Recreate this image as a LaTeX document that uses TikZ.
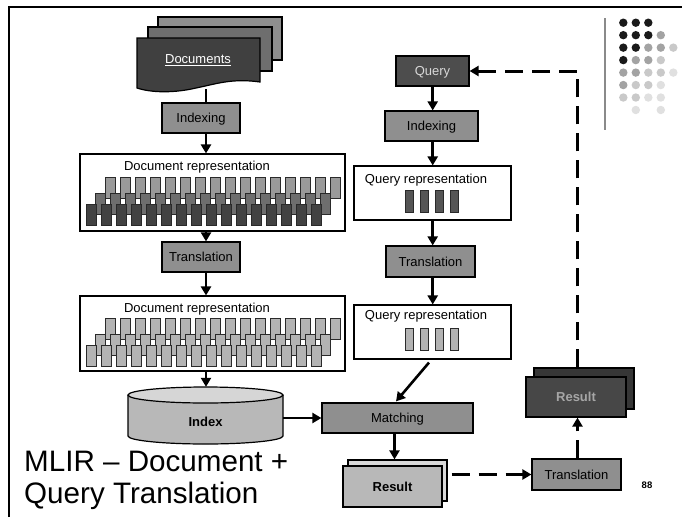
\documentclass[tikz,border=0pt]{standalone}
\usepackage{fontspec}
\setmainfont{Liberation Sans}
\usetikzlibrary{arrows.meta}

\definecolor{boxgray}{HTML}{8F8F8F}
\definecolor{qdark}{HTML}{4D4D4D}
\definecolor{docfront}{HTML}{404040}
\definecolor{docmid}{HTML}{6E6E6E}
\definecolor{docback}{HTML}{8E8E8E}
\definecolor{barA}{HTML}{9A9A9A}
\definecolor{barB}{HTML}{6E6E6E}
\definecolor{barC}{HTML}{424242}
\definecolor{barL}{HTML}{B3B3B3}
\definecolor{barQ}{HTML}{555555}
\definecolor{barline}{HTML}{2A2A2A}
\definecolor{cylbody}{HTML}{B8B8B8}
\definecolor{cyltop}{HTML}{D6D6D6}
\definecolor{resfront}{HTML}{B8B8B8}
\definecolor{resback}{HTML}{D9D9D9}
\definecolor{rtfront}{HTML}{474747}
\definecolor{rtback}{HTML}{363636}
\definecolor{rttext}{HTML}{A6A6A6}
\definecolor{qtext}{HTML}{D8D8D8}
\definecolor{dotK}{HTML}{1A1A1A}
\definecolor{dotG}{HTML}{A3A3A3}
\definecolor{dotL}{HTML}{C9C9C9}
\definecolor{dotX}{HTML}{E0E0E0}
\definecolor{rulegray}{HTML}{8A8A8A}

\begin{document}
\begin{tikzpicture}[x=1pt,y=-1pt,
  flowbox/.style={draw=black, line width=1.2pt, inner sep=0pt,
    font=\fontsize{13}{15}\selectfont, text height=9.3pt, text depth=0pt},
  panel/.style={draw=black, line width=1.1pt, fill=white, inner sep=0pt},
  bar/.style={draw=barline, line width=0.8pt},
  sheet/.style={draw=black, line width=1.2pt},
  lbl/.style={font=\fontsize{13}{15}\selectfont, inner sep=0pt},
  arr/.style={line width=2.6pt, -{Triangle[length=9pt,width=10pt]}},
  darr/.style={line width=3pt, dash pattern=on 18pt off 9pt,
    -{Triangle[length=9pt,width=10pt]}},
]
\useasboundingbox (0,0) rectangle (682,517);
\fill[white] (0,0) rectangle (682,517);

% slide frame
\draw[line width=2.4pt] (9.2,517) -- (9.2,7.2) -- (682,7.2);

% corner ornament: rule and dot grid
\draw[rulegray, line width=1.6pt] (605,18) -- (605,130);
\foreach \r/\c/\col in {0/0/dotK,0/1/dotK,0/2/dotK,
  1/0/dotK,1/1/dotK,1/2/dotK,1/3/dotG,
  2/0/dotK,2/1/dotK,2/2/dotG,2/3/dotG,2/4/dotL,
  3/0/dotK,3/1/dotG,3/2/dotG,3/3/dotL,
  4/0/dotG,4/1/dotG,4/2/dotL,4/3/dotL,4/4/dotX,
  5/0/dotG,5/1/dotL,5/2/dotL,5/3/dotX,
  6/0/dotL,6/1/dotL,6/2/dotX,6/3/dotX,
  7/1/dotX,7/3/dotX}
  \fill[\col] (623.3+12.5*\c,22.7+12.47*\r) circle[radius=4.2pt];

% stack of documents
\draw[sheet, fill=docback] (158,17) rectangle (282,60);
\draw[sheet, fill=docmid] (148,27) rectangle (272,71);
\draw[sheet, fill=docfront] (137,38) -- (260,38) -- (260,82)
  .. controls (232,78) and (216,84) .. (196,88)
  .. controls (175,93) and (152,93) .. (137,88) -- cycle;
\node[lbl, text=white] (docs) at (198,60) {\underline{Documents}};
\coordinate (docsfoot) at (206,89);
\coordinate (colL) at (206,0);
\coordinate (colR) at (432.7,0);

% document side
\node[flowbox, fill=boxgray, minimum width=78pt, minimum height=30pt] (idx1) at (201,118) {Indexing};
\node[panel, minimum width=265pt, minimum height=77pt] (rep1) at (212.5,192.5) {};
\node[lbl, anchor=base] (rep1t) at (197,170.7) {Document representation};
\foreach \i in {0,...,15} \draw[bar, fill=barA] (105+15*\i,177) rectangle ++(10,21);
\foreach \i in {0,...,15} \draw[bar, fill=barB] (95+15*\i,193) rectangle ++(10,21);
\foreach \i in {0,...,15} \draw[bar, fill=barC] (86+15*\i,204) rectangle ++(10,21);

\node[flowbox, fill=boxgray, minimum width=78pt, minimum height=30pt] (tr1) at (201,257) {Translation};
\node[panel, minimum width=265pt, minimum height=75pt] (rep2) at (212.5,333.5) {};
\node[lbl, anchor=base] (rep2t) at (197,312.3) {Document representation};
\foreach \i in {0,...,15} \draw[bar, fill=barL] (105+15*\i,318) rectangle ++(10,21);
\foreach \i in {0,...,15} \draw[bar, fill=barL] (95+15*\i,334) rectangle ++(10,21);
\foreach \i in {0,...,15} \draw[bar, fill=barL] (86+15*\i,345) rectangle ++(10,21);

% index cylinder
\draw[sheet, fill=cylbody] (128,395) -- (128,436) arc[start angle=180, end angle=360, x radius=77.5pt, y radius=8pt] -- (283,395);
\draw[sheet, fill=cyltop] (205.5,395) ellipse[x radius=77.5pt, y radius=8pt];
\node[inner sep=0pt, minimum width=155pt, minimum height=57pt] (index) at (205.5,415.5) {};
\node[lbl, font=\fontsize{13}{15}\selectfont\bfseries, anchor=base] (indext) at (205.5,426.3) {Index};

% query side
\node[flowbox, fill=qdark, text=qtext, minimum width=73pt, minimum height=30pt] (query) at (432.5,71) {Query};
\node[flowbox, fill=boxgray, minimum width=93pt, minimum height=30pt] (idx2) at (431.5,126) {Indexing};
\node[panel, minimum width=157pt, minimum height=54pt] (qrep1) at (432.5,193) {};
\node[lbl, anchor=base] (qrep1t) at (426,183.3) {Query representation};
\foreach \i in {0,...,3} \draw[bar, fill=barQ] (405+15*\i,190) rectangle ++(8,22);
\node[flowbox, fill=boxgray, minimum width=89pt, minimum height=31pt] (tr2) at (430.5,261.5) {Translation};
\node[panel, minimum width=157pt, minimum height=54pt] (qrep2) at (432.5,332) {};
\node[lbl, anchor=base] (qrep2t) at (426,319.5) {Query representation};
\foreach \i in {0,...,3} \draw[bar, fill=barL] (405+15*\i,328) rectangle ++(8,22);

% matching and results
\node[flowbox, fill=boxgray, minimum width=151pt, minimum height=30pt] (match) at (397.5,418) {Matching};
\node[sheet, fill=resback, inner sep=0pt, minimum width=99pt, minimum height=41pt] (resb) at (397.5,480.5) {};
\node[flowbox, fill=resfront, font=\fontsize{13}{15}\selectfont\bfseries, minimum width=99pt, minimum height=41pt] (res) at (392.5,486.5) {Result};
\node[flowbox, fill=boxgray, minimum width=89pt, minimum height=31pt] (tr3) at (576.5,474.5) {Translation};
\node[sheet, fill=rtback, inner sep=0pt, minimum width=100pt, minimum height=41pt] (res2b) at (584,388.5) {};
\node[flowbox, fill=rtfront, text=rttext, font=\fontsize{13}{15}\selectfont\bfseries, minimum width=100pt, minimum height=40pt] (res2) at (576,397) {Result};

% connectors
\draw[line width=2.6pt] (docsfoot) -- (idx1.north -| docsfoot);
\draw[arr] (idx1.south -| colL) -- (rep1.north -| colL);
\draw[arr] (rep1.south -| colL) -- (tr1.north -| colL);
\draw[arr] (tr1.south -| colL) -- (rep2.north -| colL);
\draw[arr] (rep2.south -| colL) -- (index.north -| colL);
\draw[arr] (index.east |- match.west) -- (match.west);

\draw[arr] (query.south -| colR) -- (idx2.north -| colR);
\draw[arr] (idx2.south -| colR) -- (qrep1.north -| colR);
\draw[arr] (qrep1.south -| colR) -- (tr2.north -| colR);
\draw[arr] (tr2.south -| colR) -- (qrep2.north -| colR);
\draw[arr] ([xshift=-3.5pt, yshift=-3pt]qrep2.south) -- ([xshift=-1.5pt, yshift=1pt]match.north);
\draw[arr] ([xshift=-3pt]match.south) -- ([xshift=-3pt]match.south |- resb.north);

\draw[darr] ([xshift=4pt]resb.east |- tr3.west) -- (tr3.west);
\draw[darr] ([xshift=1pt]tr3.north) -- ([xshift=1pt]tr3.north |- res2.south);
\draw[darr] ([xshift=1pt]tr3.north |- res2b.north) -- ([xshift=1pt]tr3.north |- query.east) -- (query.east);

% title and page number
\node[anchor=base west, inner sep=0pt, font=\fontsize{29.6}{32}\selectfont] (title1) at (24,471.7) {MLIR – Document +};
\node[anchor=base west, inner sep=0pt, font=\fontsize{29.6}{32}\selectfont] (title2) at (24,503.3) {Query Translation};
\node[anchor=base, inner sep=0pt, font=\fontsize{9.5}{11}\selectfont\bfseries] (pnum) at (647,488.3) {88};
\end{tikzpicture}
\end{document}
